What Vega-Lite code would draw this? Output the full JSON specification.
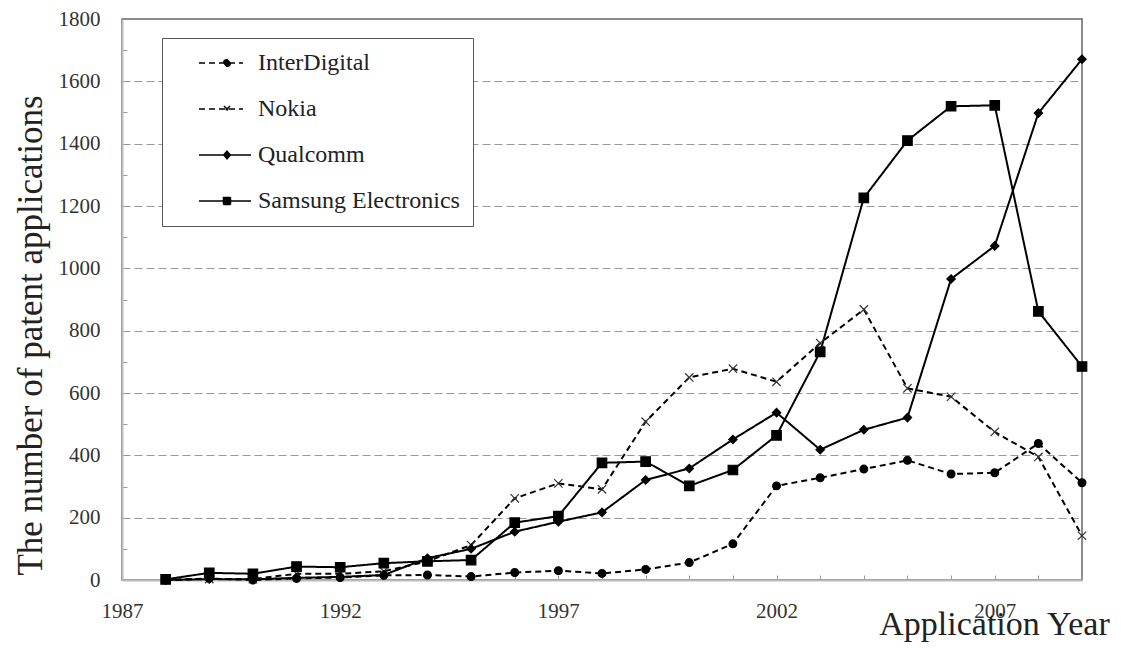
{
  "$schema": "https://vega.github.io/schema/vega-lite/v6.json",
  "width": 960,
  "height": 561,
  "autosize": {"type": "none"},
  "padding": {"left": 122, "top": 19, "right": 39, "bottom": 68},
  "background": "white",
  "config": {
    "view": {"stroke": "#666", "strokeWidth": 1.5},
    "font": "Liberation Serif"
  },
  "data": {
    "values": [
      {"year": 1988, "company": "InterDigital", "count": 0},
      {"year": 1989, "company": "InterDigital", "count": 5},
      {"year": 1990, "company": "InterDigital", "count": 0},
      {"year": 1991, "company": "InterDigital", "count": 5},
      {"year": 1992, "company": "InterDigital", "count": 8},
      {"year": 1993, "company": "InterDigital", "count": 15},
      {"year": 1994, "company": "InterDigital", "count": 16},
      {"year": 1995, "company": "InterDigital", "count": 11},
      {"year": 1996, "company": "InterDigital", "count": 24},
      {"year": 1997, "company": "InterDigital", "count": 30},
      {"year": 1998, "company": "InterDigital", "count": 21},
      {"year": 1999, "company": "InterDigital", "count": 34},
      {"year": 2000, "company": "InterDigital", "count": 56},
      {"year": 2001, "company": "InterDigital", "count": 116},
      {"year": 2002, "company": "InterDigital", "count": 302},
      {"year": 2003, "company": "InterDigital", "count": 328},
      {"year": 2004, "company": "InterDigital", "count": 356},
      {"year": 2005, "company": "InterDigital", "count": 384},
      {"year": 2006, "company": "InterDigital", "count": 340},
      {"year": 2007, "company": "InterDigital", "count": 344},
      {"year": 2008, "company": "InterDigital", "count": 438},
      {"year": 2009, "company": "InterDigital", "count": 312},
      {"year": 1988, "company": "Nokia", "count": 0},
      {"year": 1989, "company": "Nokia", "count": 3},
      {"year": 1990, "company": "Nokia", "count": 3},
      {"year": 1991, "company": "Nokia", "count": 20},
      {"year": 1992, "company": "Nokia", "count": 20},
      {"year": 1993, "company": "Nokia", "count": 28},
      {"year": 1994, "company": "Nokia", "count": 60},
      {"year": 1995, "company": "Nokia", "count": 112},
      {"year": 1996, "company": "Nokia", "count": 262},
      {"year": 1997, "company": "Nokia", "count": 310},
      {"year": 1998, "company": "Nokia", "count": 291},
      {"year": 1999, "company": "Nokia", "count": 508},
      {"year": 2000, "company": "Nokia", "count": 650},
      {"year": 2001, "company": "Nokia", "count": 678},
      {"year": 2002, "company": "Nokia", "count": 636},
      {"year": 2003, "company": "Nokia", "count": 760},
      {"year": 2004, "company": "Nokia", "count": 868},
      {"year": 2005, "company": "Nokia", "count": 615},
      {"year": 2006, "company": "Nokia", "count": 588},
      {"year": 2007, "company": "Nokia", "count": 475},
      {"year": 2008, "company": "Nokia", "count": 395},
      {"year": 2009, "company": "Nokia", "count": 142},
      {"year": 1988, "company": "Qualcomm", "count": 0},
      {"year": 1989, "company": "Qualcomm", "count": 3},
      {"year": 1990, "company": "Qualcomm", "count": 2},
      {"year": 1991, "company": "Qualcomm", "count": 7},
      {"year": 1992, "company": "Qualcomm", "count": 10},
      {"year": 1993, "company": "Qualcomm", "count": 16},
      {"year": 1994, "company": "Qualcomm", "count": 70},
      {"year": 1995, "company": "Qualcomm", "count": 100},
      {"year": 1996, "company": "Qualcomm", "count": 155},
      {"year": 1997, "company": "Qualcomm", "count": 187},
      {"year": 1998, "company": "Qualcomm", "count": 217},
      {"year": 1999, "company": "Qualcomm", "count": 321},
      {"year": 2000, "company": "Qualcomm", "count": 358},
      {"year": 2001, "company": "Qualcomm", "count": 451},
      {"year": 2002, "company": "Qualcomm", "count": 537},
      {"year": 2003, "company": "Qualcomm", "count": 418},
      {"year": 2004, "company": "Qualcomm", "count": 482},
      {"year": 2005, "company": "Qualcomm", "count": 521},
      {"year": 2006, "company": "Qualcomm", "count": 966},
      {"year": 2007, "company": "Qualcomm", "count": 1072},
      {"year": 2008, "company": "Qualcomm", "count": 1498},
      {"year": 2009, "company": "Qualcomm", "count": 1671},
      {"year": 1988, "company": "Samsung Electronics", "count": 2},
      {"year": 1989, "company": "Samsung Electronics", "count": 23},
      {"year": 1990, "company": "Samsung Electronics", "count": 20},
      {"year": 1991, "company": "Samsung Electronics", "count": 43},
      {"year": 1992, "company": "Samsung Electronics", "count": 41},
      {"year": 1993, "company": "Samsung Electronics", "count": 54},
      {"year": 1994, "company": "Samsung Electronics", "count": 60},
      {"year": 1995, "company": "Samsung Electronics", "count": 64},
      {"year": 1996, "company": "Samsung Electronics", "count": 184},
      {"year": 1997, "company": "Samsung Electronics", "count": 205},
      {"year": 1998, "company": "Samsung Electronics", "count": 376},
      {"year": 1999, "company": "Samsung Electronics", "count": 380},
      {"year": 2000, "company": "Samsung Electronics", "count": 302},
      {"year": 2001, "company": "Samsung Electronics", "count": 353},
      {"year": 2002, "company": "Samsung Electronics", "count": 464},
      {"year": 2003, "company": "Samsung Electronics", "count": 732},
      {"year": 2004, "company": "Samsung Electronics", "count": 1226},
      {"year": 2005, "company": "Samsung Electronics", "count": 1410},
      {"year": 2006, "company": "Samsung Electronics", "count": 1520},
      {"year": 2007, "company": "Samsung Electronics", "count": 1523},
      {"year": 2008, "company": "Samsung Electronics", "count": 862},
      {"year": 2009, "company": "Samsung Electronics", "count": 685}
    ]
  },
  "encoding": {
    "x": {
      "field": "year",
      "type": "quantitative",
      "scale": {"domain": [1987, 2009], "nice": false, "zero": false},
      "axis": {
        "values": [1987, 1988, 1989, 1990, 1991, 1992, 1993, 1994, 1995, 1996, 1997, 1998, 1999, 2000, 2001, 2002, 2003, 2004, 2005, 2006, 2007, 2008, 2009],
        "labelExpr": "(datum.value - 1987) % 5 === 0 ? '' + datum.value : ''",
        "grid": false,
        "domainColor": "#bbb",
        "domainWidth": 2,
        "tickColor": "#999",
        "tickSize": -5,
        "tickWidth": 1,
        "labelPadding": 25,
        "labelFont": "Liberation Serif",
        "labelFontSize": 21,
        "labelColor": "#333",
        "labelFlush": false,
        "labelOverlap": false,
        "title": "Application Year",
        "titleFont": "Liberation Serif",
        "titleFontSize": 34,
        "titleFontWeight": "normal",
        "titleColor": "#222",
        "titleX": 872,
        "titleY": 54,
        "titleAlign": "center",
        "titleBaseline": "alphabetic"
      }
    },
    "y": {
      "field": "count",
      "type": "quantitative",
      "scale": {"domain": [0, 1800], "nice": false},
      "axis": {
        "values": [0, 100, 200, 300, 400, 500, 600, 700, 800, 900, 1000, 1100, 1200, 1300, 1400, 1500, 1600, 1700, 1800],
        "labelExpr": "datum.value % 200 === 0 ? '' + datum.value : ''",
        "grid": true,
        "gridDash": [8, 4],
        "gridColor": "#999",
        "gridWidth": 1,
        "gridOpacity": {"condition": {"test": "datum.value % 200 === 0 && datum.value > 0 && datum.value < 1800", "value": 1}, "value": 0},
        "tickOpacity": {"condition": {"test": "datum.value % 200 !== 0", "value": 1}, "value": 0},
        "tickSize": -5,
        "tickColor": "#999",
        "domainColor": "#bbb",
        "domainWidth": 2,
        "labelPadding": 27,
        "labelFont": "Liberation Serif",
        "labelFontSize": 21,
        "labelColor": "#333",
        "labelFlush": false,
        "labelOverlap": false,
        "title": "The number of patent applications",
        "titleFont": "Liberation Serif",
        "titleFontSize": 35,
        "titleFontWeight": "normal",
        "titleColor": "#222",
        "titleAngle": -90,
        "titleX": -92,
        "titleY": 316,
        "titleAlign": "center",
        "titleBaseline": "middle"
      }
    }
  },
  "layer": [
    {
      "mark": {"type": "line", "color": "black", "strokeWidth": 2},
      "encoding": {
        "strokeDash": {
          "field": "company",
          "type": "nominal",
          "scale": {
            "domain": ["InterDigital", "Nokia", "Qualcomm", "Samsung Electronics"],
            "range": [[6, 4], [6, 4], [1, 0], [1, 0]]
          },
          "legend": {
            "orient": "none",
            "legendX": 40,
            "legendY": 19,
            "title": null,
            "padding": 13,
            "strokeColor": "#555",
            "fillColor": "white",
            "labelFont": "Liberation Serif",
            "labelFontSize": 24,
            "labelColor": "#222",
            "labelLimit": 500,
            "labelOffset": 21,
            "labelExpr": "datum.label + '\u00a0\u00a0\u00a0'",
            "rowPadding": 22,
            "symbolSize": 400,
            "symbolOffset": 38,
            "symbolStrokeWidth": 1.5,
            "symbolStrokeColor": "black",
            "encode": {
              "symbols": {
                "update": {
                  "shape": {"signal": "datum.value === 'InterDigital' ? 'M-2.6,0L1.8,0M0.53,0A0.33,0.33,0,1,1,-0.13,0A0.33,0.33,0,1,1,0.53,0Z' : datum.value === 'Nokia' ? 'M-2.6,0L1.8,0M-0.1,-0.3L0.5,0.3M0.5,-0.3L-0.1,0.3' : datum.value === 'Qualcomm' ? 'M-2.6,0L2.6,0M0.2,-0.38L0.53,0L0.2,0.38L-0.13,0Z' : 'M-2.6,0L2.6,0M-0.15,-0.35L0.55,-0.35L0.55,0.35L-0.15,0.35Z'"},
                  "size": {"value": 400},
                  "fill": {"value": "black"},
                  "fillOpacity": {"value": 1},
                  "stroke": {"value": "black"},
                  "strokeWidth": {"value": 1.5},
                  "opacity": {"value": 1}
                }
              }
            }
          }
        }
      }
    },
    {
      "transform": [{"filter": "datum.company === 'InterDigital'"}],
      "mark": {"type": "point", "shape": "circle", "size": 60, "filled": true, "fill": "black", "stroke": "black", "strokeWidth": 1.2, "opacity": 1}
    },
    {
      "transform": [{"filter": "datum.company === 'Nokia'"}],
      "mark": {"type": "point", "shape": "M-1,-1L1,1M1,-1L-1,1", "size": 70, "filled": false, "stroke": "#333", "strokeWidth": 1.2, "opacity": 1}
    },
    {
      "transform": [{"filter": "datum.company === 'Qualcomm'"}],
      "mark": {"type": "point", "shape": "diamond", "size": 70, "filled": true, "fill": "black", "stroke": "black", "strokeWidth": 1.2, "opacity": 1}
    },
    {
      "transform": [{"filter": "datum.company === 'Samsung Electronics'"}],
      "mark": {"type": "point", "shape": "square", "size": 90, "filled": true, "fill": "black", "stroke": "black", "strokeWidth": 1.2, "opacity": 1}
    }
  ]
}
